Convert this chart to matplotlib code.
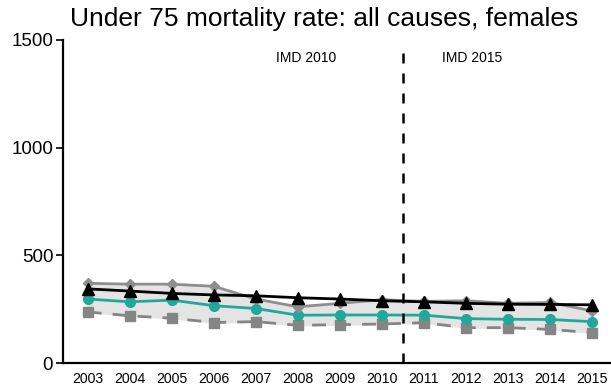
import matplotlib
matplotlib.use("Agg")
import matplotlib.pyplot as plt

plt.rcParams['font.family'] = ['Liberation Sans', 'DejaVu Sans']

# ============================================================
#   DADOS
# ============================================================
anos = [2003, 2004, 2005, 2006, 2007, 2008, 2009, 2010, 2011, 2012, 2013, 2014, 2015]

taxa_losango = [370, 366, 366, 356, 297, 261, 277, 294, 286, 289, 277, 281, 242]
taxa_triangulo = [344, 334, 323, 316, 312, 303, 297, 289, 284, 277, 273, 272, 270]
taxa_circulo = [297, 284, 292, 266, 253, 222, 223, 223, 222, 206, 203, 202, 192]
taxa_quadrado = [237, 219, 208, 188, 192, 175, 178, 181, 187, 164, 164, 156, 141]

titulo = "Under 75 mortality rate: all causes, females"
y_ticks = [0, 500, 1000, 1500]
corte_imd = 2010.5
rotulos_imd = [("IMD 2010", 2008.2), ("IMD 2015", 2012.15)]

# ============================================================
#   GRÁFICO
# ============================================================
fig = plt.figure(figsize=(6.11, 3.87), dpi=100)
ax = fig.add_axes([0.103, 0.062, 0.897, 0.835])

ax.fill_between(anos, taxa_quadrado, taxa_losango, color="#e4e4e4", zorder=1)

ax.plot(anos, taxa_quadrado, color="#858585", linestyle=(0, (5, 4)), linewidth=2,
        marker="s", markersize=7, zorder=2)
ax.plot(anos, taxa_circulo, color="#21a89a", linewidth=2,
        marker="o", markersize=7, zorder=3)
ax.plot(anos, taxa_losango, color="#8e8e8e", linewidth=2,
        marker="D", markersize=5, zorder=4)
ax.plot(anos, taxa_triangulo, color="black", linewidth=2,
        marker="^", markersize=8, zorder=5)

ax.axvline(corte_imd, ymin=0, ymax=0.975, color="black", linewidth=1.8,
           linestyle=(0, (4, 4)), zorder=6)

for texto, x in rotulos_imd:
    ax.text(x, 1415, texto, ha="center", va="center", fontsize=10)

ax.set_xlim(2002.41, 2015.45)
ax.set_ylim(0, 1500)
ax.set_yticks(y_ticks)
ax.set_xticks(anos)
ax.tick_params(axis="y", labelsize=13.5, length=5, width=1.2, pad=2)
ax.tick_params(axis="x", labelsize=10.2, length=0, pad=6.5)

for lado in ["top", "right"]:
    ax.spines[lado].set_visible(False)
for lado in ["left", "bottom"]:
    ax.spines[lado].set_linewidth(1.6)

fig.text(0.53, 0.952, titulo, ha="center", va="center", fontsize=19)

fig.savefig("out.png", dpi=100)
